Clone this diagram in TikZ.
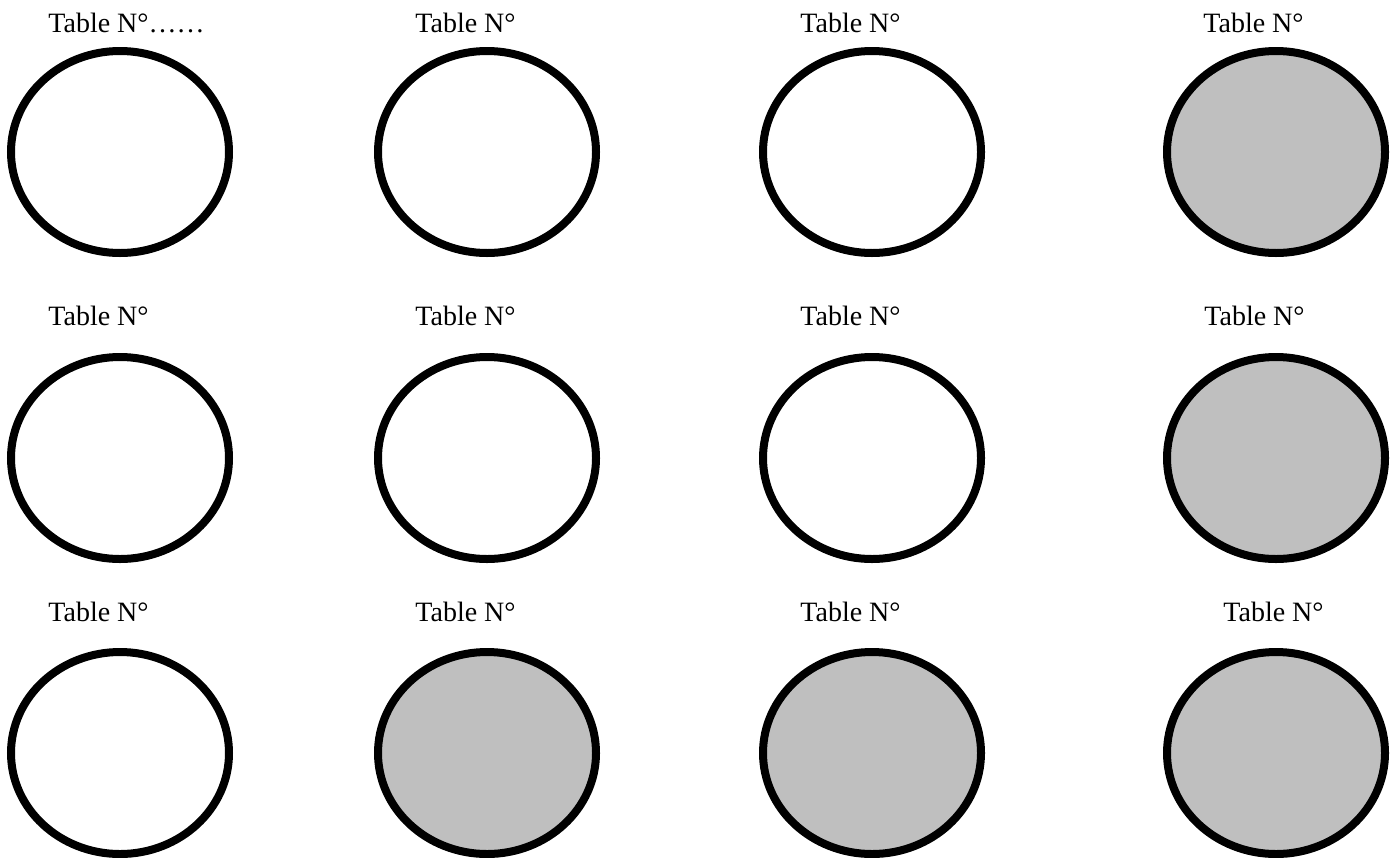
\documentclass[tikz,border=0pt]{standalone}
\usepackage{fontspec}
\setmainfont{Liberation Serif}
\usetikzlibrary{shapes.geometric}
\definecolor{tablegray}{RGB}{191,191,191}
\tikzset{
  tablebox/.style={ellipse, draw=black, line width=4pt, fill=white, inner sep=0pt,
    minimum width=109pt, minimum height=101pt},
  tablefull/.style={tablebox, fill=tablegray},
  tablelabel/.style={anchor=base west, inner sep=0pt, font=\fontsize{14pt}{16pt}\selectfont}
}
\begin{document}
\begin{tikzpicture}[x=0.5pt,y=-0.5pt]
\useasboundingbox (0,0) rectangle (1400,857);
% row 1
\node[tablelabel] (l11) at (48,32) {Table N°……};
\node[tablelabel] (l12) at (415,32) {Table N°};
\node[tablelabel] (l13) at (800,32) {Table N°};
\node[tablelabel] (l14) at (1203,32) {Table N°};
\node[tablebox] (t11) at (120,152) {};
\node[tablebox] (t12) at (487,152) {};
\node[tablebox] (t13) at (872,152) {};
\node[tablefull] (t14) at (1276,152) {};
% row 2
\node[tablelabel] (l21) at (48,325) {Table N°};
\node[tablelabel] (l22) at (415,325) {Table N°};
\node[tablelabel] (l23) at (800,325) {Table N°};
\node[tablelabel] (l24) at (1204,325) {Table N°};
\node[tablebox] (t21) at (120,458) {};
\node[tablebox] (t22) at (487,458) {};
\node[tablebox] (t23) at (872,458) {};
\node[tablefull] (t24) at (1276,458) {};
% row 3
\node[tablelabel] (l31) at (48,621) {Table N°};
\node[tablelabel] (l32) at (415,621) {Table N°};
\node[tablelabel] (l33) at (800,621) {Table N°};
\node[tablelabel] (l34) at (1223,621) {Table N°};
\node[tablebox] (t31) at (120,753) {};
\node[tablefull] (t32) at (487,753) {};
\node[tablefull] (t33) at (872,753) {};
\node[tablefull] (t34) at (1276,753) {};
\end{tikzpicture}
\end{document}
